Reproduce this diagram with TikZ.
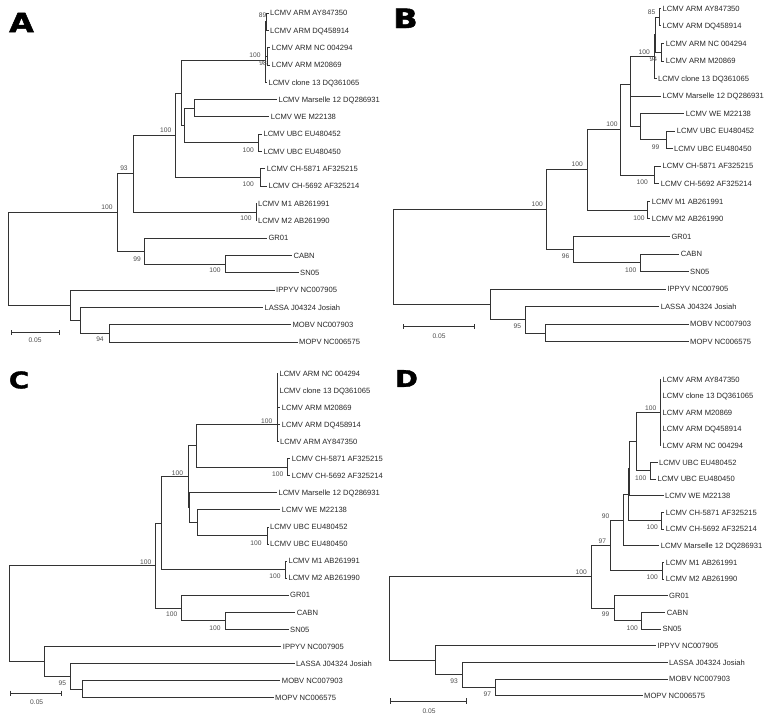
\documentclass[tikz,border=0pt]{standalone}
\usepackage{fontspec}
\setmainfont{Liberation Sans}
\newfontfamily\panelfont[BoldFeatures={FakeBold=1.6}]{DejaVu Sans}
\newcommand\toleaves[2]{\foreach \kid in {#2}{\draw[br] (#1) |- (\kid.west);}}
\newcommand\tonodes[2]{\foreach \kid in {#2}{\draw[br] (#1) |- (\kid);}}
\tikzset{
  leaf/.style={anchor=west, inner xsep=1.1pt, inner ysep=0pt, font=\fontsize{5.7}{6}\selectfont, text=black!85, text height=4.1pt, text depth=0pt},
  bs/.style={inner sep=0pt, font=\fontsize{5}{5}\selectfont, text=black!70, text height=3.6pt, text depth=0pt},
  br/.style={draw=black!80, line width=0.65pt},
  panelbig/.style={inner sep=0pt, font=\panelfont\bfseries\fontsize{20}{20}\selectfont},
  panelsmall/.style={inner sep=0pt, font=\panelfont\bfseries\fontsize{17.2}{17.2}\selectfont},
}
\begin{document}
\begin{tikzpicture}[x=0.75pt,y=-0.75pt]
\useasboundingbox (0,0) rectangle (768,717);
%================ PANEL A =================
\node[panelbig] (pA) at (21.5,22.5) {\scalebox{1.2}[1]{A}};
\node[leaf] (a0) at (268.5,13.0) {LCMV ARM AY847350};
\node[leaf] (a1) at (268.5,30.3) {LCMV ARM DQ458914};
\node[leaf] (a2) at (270.2,47.6) {LCMV ARM NC 004294};
\node[leaf] (a3) at (270.2,65.0) {LCMV ARM M20869};
\node[leaf] (a4) at (266.8,82.3) {LCMV clone 13 DQ361065};
\node[leaf] (a5) at (276.8,99.6) {LCMV Marselle 12 DQ286931};
\node[leaf] (a6) at (269.2,116.9) {LCMV WE M22138};
\node[leaf] (a7) at (261.8,134.2) {LCMV UBC EU480452};
\node[leaf] (a8) at (261.8,151.6) {LCMV UBC EU480450};
\node[leaf] (a9) at (265.2,168.9) {LCMV CH-5871 AF325215};
\node[leaf] (a10) at (266.8,186.2) {LCMV CH-5692 AF325214};
\node[leaf] (a11) at (256.5,203.5) {LCMV M1 AB261991};
\node[leaf] (a12) at (256.5,220.8) {LCMV M2 AB261990};
\node[leaf] (a13) at (266.8,238.2) {GR01};
\node[leaf] (a14) at (291.8,255.5) {CABN};
\node[leaf] (a15) at (298.5,272.8) {SN05};
\node[leaf] (a16) at (274.5,290.1) {IPPYV NC007905};
\node[leaf] (a17) at (262.8,307.4) {LASSA J04324 Josiah};
\node[leaf] (a18) at (290.8,324.8) {MOBV NC007903};
\node[leaf] (a19) at (297.5,342.0) {MOPV NC006575};
\coordinate (aAD) at (266,21.7);
\coordinate (aNM) at (267.3,56.3);
\coordinate (aP1) at (265.5,39.0);
\coordinate (aARM) at (265,60.7);
\coordinate (aS) at (194.3,108.3);
\coordinate (aUBC) at (258.3,142.9);
\coordinate (aR) at (184.3,125.6);
\coordinate (aQ) at (181.7,93.2);
\coordinate (aCH) at (260,177.6);
\coordinate (aP) at (175.7,135.4);
\coordinate (aM12) at (256,212.2);
\coordinate (aN133) at (133,173.8);
\coordinate (aCS) at (225,264.2);
\coordinate (aGR) at (144.3,251.2);
\coordinate (aN117) at (117,212.5);
\coordinate (aMOB) at (109,333.4);
\coordinate (aLAS) at (80.7,320.4);
\coordinate (aOG) at (70.7,305.3);
\coordinate (aRoot) at (8.3,258.9);
\toleaves{aAD}{a0,a1}
\toleaves{aNM}{a2,a3}
\tonodes{aP1}{aAD,aNM}
\tonodes{aARM}{aP1}
\toleaves{aARM}{a4}
\toleaves{aS}{a5,a6}
\toleaves{aUBC}{a7,a8}
\tonodes{aR}{aS,aUBC}
\tonodes{aQ}{aARM,aR}
\toleaves{aCH}{a9,a10}
\tonodes{aP}{aQ,aCH}
\toleaves{aM12}{a11,a12}
\tonodes{aN133}{aP,aM12}
\toleaves{aCS}{a14,a15}
\toleaves{aGR}{a13}
\tonodes{aGR}{aCS}
\tonodes{aN117}{aN133,aGR}
\toleaves{aMOB}{a18,a19}
\toleaves{aLAS}{a17}
\tonodes{aLAS}{aMOB}
\toleaves{aOG}{a16}
\tonodes{aOG}{aLAS}
\tonodes{aRoot}{aN117,aOG}
\node[bs] (ab1) at (262.5,15) {89};
\node[bs] (ab2) at (255,55) {100};
\node[bs] (ab3) at (263,62.7) {98};
\node[bs] (ab4) at (248.3,150) {100};
\node[bs] (ab5) at (248.3,184) {100};
\node[bs] (ab6) at (165.7,130) {100};
\node[bs] (ab7) at (124,168) {93};
\node[bs] (ab8) at (107,207) {100};
\node[bs] (ab9) at (246,218) {100};
\node[bs] (ab10) at (137,259) {99};
\node[bs] (ab11) at (215,270) {100};
\node[bs] (ab12) at (100,339.3) {94};
\coordinate (as1) at (11,332.7);
\coordinate (as2) at (59.3,332.7);
\draw[br] (as1) -- (as2);
\draw[br] ([yshift=2pt]as1) -- ([yshift=-2pt]as1);
\draw[br] ([yshift=2pt]as2) -- ([yshift=-2pt]as2);
\node[bs] (asl) at (35,340.5) {0.05};
%================ PANEL B =================
\node[panelbig] (pB) at (405.5,18.3) {\scalebox{1.2}[1]{B}};
\node[leaf] (b0) at (660.8,8.3) {LCMV ARM AY847350};
\node[leaf] (b1) at (660.8,25.85) {LCMV ARM DQ458914};
\node[leaf] (b2) at (664.2,43.4) {LCMV ARM NC 004294};
\node[leaf] (b3) at (664.2,60.95) {LCMV ARM M20869};
\node[leaf] (b4) at (656.5,78.5) {LCMV clone 13 DQ361065};
\node[leaf] (b5) at (660.8,96.05) {LCMV Marselle 12 DQ286931};
\node[leaf] (b6) at (684.2,113.6) {LCMV WE M22138};
\node[leaf] (b7) at (675.2,131.15) {LCMV UBC EU480452};
\node[leaf] (b8) at (672.5,148.7) {LCMV UBC EU480450};
\node[leaf] (b9) at (660.8,166.25) {LCMV CH-5871 AF325215};
\node[leaf] (b10) at (659.2,183.8) {LCMV CH-5692 AF325214};
\node[leaf] (b11) at (650.2,201.35) {LCMV M1 AB261991};
\node[leaf] (b12) at (650.2,218.9) {LCMV M2 AB261990};
\node[leaf] (b13) at (669.8,236.45) {GR01};
\node[leaf] (b14) at (679.2,254) {CABN};
\node[leaf] (b15) at (688.5,271.55) {SN05};
\node[leaf] (b16) at (665.8,289.1) {IPPYV NC007905};
\node[leaf] (b17) at (659.2,306.65) {LASSA J04324 Josiah};
\node[leaf] (b18) at (688.5,324.2) {MOBV NC007903};
\node[leaf] (b19) at (688.5,341.75) {MOPV NC006575};
\coordinate (bAD) at (659.3,17.1);
\coordinate (bNM) at (661.7,52.2);
\coordinate (bP1) at (655,34.6);
\coordinate (bARM) at (654.3,56.5);
\coordinate (bUBC) at (666.7,139.9);
\coordinate (bWU) at (640,126.8);
\coordinate (bM2) at (630.7,111.4);
\coordinate (bM1) at (630,84);
\coordinate (bCH) at (654,175);
\coordinate (bN620) at (620.7,129.5);
\coordinate (bM12) at (647,210.1);
\coordinate (bN587) at (587.3,169.8);
\coordinate (bCS) at (640,262.8);
\coordinate (bGR) at (573.3,249.6);
\coordinate (bN546) at (546.3,209.7);
\coordinate (bMOB) at (545.7,333);
\coordinate (bLAS) at (525.7,319.8);
\coordinate (bOG) at (490,304.5);
\coordinate (bRoot) at (393.3,257.1);
\toleaves{bAD}{b0,b1}
\toleaves{bNM}{b2,b3}
\tonodes{bP1}{bAD,bNM}
\tonodes{bARM}{bP1}
\toleaves{bARM}{b4}
\toleaves{bUBC}{b7,b8}
\toleaves{bWU}{b6}
\tonodes{bWU}{bUBC}
\toleaves{bM2}{b5}
\tonodes{bM2}{bWU}
\tonodes{bM1}{bARM,bM2}
\toleaves{bCH}{b9,b10}
\tonodes{bN620}{bM1,bCH}
\toleaves{bM12}{b11,b12}
\tonodes{bN587}{bN620,bM12}
\toleaves{bCS}{b14,b15}
\toleaves{bGR}{b13}
\tonodes{bGR}{bCS}
\tonodes{bN546}{bN587,bGR}
\toleaves{bMOB}{b18,b19}
\toleaves{bLAS}{b17}
\tonodes{bLAS}{bMOB}
\toleaves{bOG}{b16}
\tonodes{bOG}{bLAS}
\tonodes{bRoot}{bN546,bOG}
\node[bs] (bb1) at (651.7,11.7) {85};
\node[bs] (bb2) at (644.3,52.3) {100};
\node[bs] (bb3) at (653.3,59.3) {94};
\node[bs] (bb4) at (655.7,146.7) {99};
\node[bs] (bb5) at (612,124.5) {100};
\node[bs] (bb6) at (642.3,181.7) {100};
\node[bs] (bb7) at (577.3,164) {100};
\node[bs] (bb8) at (639,217.7) {100};
\node[bs] (bb9) at (537.3,204.3) {100};
\node[bs] (bb10) at (565.7,256) {96};
\node[bs] (bb11) at (630.7,270) {100};
\node[bs] (bb12) at (517.3,326) {95};
\coordinate (bs1) at (403.3,326.7);
\coordinate (bs2) at (474,326.7);
\draw[br] (bs1) -- (bs2);
\draw[br] ([yshift=2pt]bs1) -- ([yshift=-2pt]bs1);
\draw[br] ([yshift=2pt]bs2) -- ([yshift=-2pt]bs2);
\node[bs] (bsl) at (439,335.7) {0.05};
%================ PANEL C =================
\node[panelsmall] (pC) at (19,380) {\scalebox{1.2}[1]{C}};
\node[leaf] (c0) at (277.8,373.3) {LCMV ARM NC 004294};
\node[leaf] (c1) at (277.8,390.4) {LCMV clone 13 DQ361065};
\node[leaf] (c2) at (280.2,407.4) {LCMV ARM M20869};
\node[leaf] (c3) at (280.2,424.5) {LCMV ARM DQ458914};
\node[leaf] (c4) at (278.5,441.6) {LCMV ARM AY847350};
\node[leaf] (c5) at (290.2,458.7) {LCMV CH-5871 AF325215};
\node[leaf] (c6) at (290.2,475.7) {LCMV CH-5692 AF325214};
\node[leaf] (c7) at (276.8,492.8) {LCMV Marselle 12 DQ286931};
\node[leaf] (c8) at (280.2,509.9) {LCMV WE M22138};
\node[leaf] (c9) at (268.5,527) {LCMV UBC EU480452};
\node[leaf] (c10) at (268.5,544) {LCMV UBC EU480450};
\node[leaf] (c11) at (286.8,561.1) {LCMV M1 AB261991};
\node[leaf] (c12) at (286.8,578.2) {LCMV M2 AB261990};
\node[leaf] (c13) at (288.5,595.2) {GR01};
\node[leaf] (c14) at (295.2,612.3) {CABN};
\node[leaf] (c15) at (288.5,629.4) {SN05};
\node[leaf] (c16) at (281.2,646.4) {IPPYV NC007905};
\node[leaf] (c17) at (294.5,663.5) {LASSA J04324 Josiah};
\node[leaf] (c18) at (280.2,680.6) {MOBV NC007903};
\node[leaf] (c19) at (273.5,697.6) {MOPV NC006575};
\coordinate (cK1) at (277.3,390.4);
\coordinate (cK2) at (277.3,407.5);
\coordinate (cARM) at (277.3,424.5);
\coordinate (cCH) at (287.3,467.2);
\coordinate (cN196) at (196,445.9);
\coordinate (cUBC) at (267.7,535.5);
\coordinate (cN197) at (197.7,522.7);
\coordinate (cN189) at (189,507.8);
\coordinate (cN3) at (188.3,476.8);
\coordinate (cM12) at (285,569.7);
\coordinate (cN2) at (161.7,523.3);
\coordinate (cCS) at (225.7,620.9);
\coordinate (cGR) at (181.7,608);
\coordinate (cN1) at (155.7,565.7);
\coordinate (cMOB) at (82.7,689.1);
\coordinate (cLAS) at (70,676.3);
\coordinate (cOG) at (44.3,661.4);
\coordinate (cRoot) at (9.3,613.5);
\toleaves{cK1}{c0,c1,c2}
\tonodes{cK2}{cK1}
\toleaves{cK2}{c3}
\tonodes{cARM}{cK2}
\toleaves{cARM}{c4}
\toleaves{cCH}{c5,c6}
\tonodes{cN196}{cARM,cCH}
\toleaves{cUBC}{c9,c10}
\toleaves{cN197}{c8}
\tonodes{cN197}{cUBC}
\toleaves{cN189}{c7}
\tonodes{cN189}{cN197}
\tonodes{cN3}{cN196,cN189}
\toleaves{cM12}{c11,c12}
\tonodes{cN2}{cN3,cM12}
\toleaves{cCS}{c14,c15}
\toleaves{cGR}{c13}
\tonodes{cGR}{cCS}
\tonodes{cN1}{cN2,cGR}
\toleaves{cMOB}{c18,c19}
\toleaves{cLAS}{c17}
\tonodes{cLAS}{cMOB}
\toleaves{cOG}{c16}
\tonodes{cOG}{cLAS}
\tonodes{cRoot}{cN1,cOG}
\node[bs] (cb1) at (266.7,421) {100};
\node[bs] (cb2) at (277.7,474.3) {100};
\node[bs] (cb3) at (177.5,473) {100};
\node[bs] (cb4) at (256,543) {100};
\node[bs] (cb5) at (145.7,561.7) {100};
\node[bs] (cb6) at (275,576.5) {100};
\node[bs] (cb7) at (171.7,614.5) {100};
\node[bs] (cb8) at (215,628.3) {100};
\node[bs] (cb9) at (62.3,683.3) {95};
\coordinate (cs1) at (10,693.3);
\coordinate (cs2) at (61.7,693.3);
\draw[br] (cs1) -- (cs2);
\draw[br] ([yshift=2pt]cs1) -- ([yshift=-2pt]cs1);
\draw[br] ([yshift=2pt]cs2) -- ([yshift=-2pt]cs2);
\node[bs] (csl) at (36.7,702.3) {0.05};
%================ PANEL D =================
\node[panelsmall] (pD) at (406.5,378.5) {\scalebox{1.2}[1]{D}};
\node[leaf] (d0) at (660.8,379.3) {LCMV ARM AY847350};
\node[leaf] (d1) at (660.8,395.95) {LCMV clone 13 DQ361065};
\node[leaf] (d2) at (660.8,412.6) {LCMV ARM M20869};
\node[leaf] (d3) at (660.8,429.25) {LCMV ARM DQ458914};
\node[leaf] (d4) at (660.8,445.9) {LCMV ARM NC 004294};
\node[leaf] (d5) at (657.5,462.55) {LCMV UBC EU480452};
\node[leaf] (d6) at (655.8,479.2) {LCMV UBC EU480450};
\node[leaf] (d7) at (663.5,495.85) {LCMV WE M22138};
\node[leaf] (d8) at (664.2,512.5) {LCMV CH-5871 AF325215};
\node[leaf] (d9) at (664.2,529.15) {LCMV CH-5692 AF325214};
\node[leaf] (d10) at (659.2,545.8) {LCMV Marselle 12 DQ286931};
\node[leaf] (d11) at (664.2,562.45) {LCMV M1 AB261991};
\node[leaf] (d12) at (664.2,579.1) {LCMV M2 AB261990};
\node[leaf] (d13) at (667.5,595.75) {GR01};
\node[leaf] (d14) at (665.2,612.4) {CABN};
\node[leaf] (d15) at (660.8,629.05) {SN05};
\node[leaf] (d16) at (655.8,645.7) {IPPYV NC007905};
\node[leaf] (d17) at (667.5,662.35) {LASSA J04324 Josiah};
\node[leaf] (d18) at (667.5,679) {MOBV NC007903};
\node[leaf] (d19) at (642.5,695.65) {MOPV NC006575};
\coordinate (dARM) at (660,412.6);
\coordinate (dUBC) at (650.7,470.9);
\coordinate (dAU) at (636.7,441.7);
\coordinate (dXa) at (629.7,468.8);
\coordinate (dCH) at (661.7,520.8);
\coordinate (dY) at (628.3,494.8);
\coordinate (dN90) at (623.3,520.3);
\coordinate (dM12) at (662.3,570.8);
\coordinate (dN97) at (610.7,545.5);
\coordinate (dCS) at (641.7,620.7);
\coordinate (dGR) at (614,608.2);
\coordinate (dN100) at (591.3,576.9);
\coordinate (dMOB) at (495,687.3);
\coordinate (dLAS) at (462.3,674.8);
\coordinate (dOG) at (435.7,660.3);
\coordinate (dRoot) at (389,618.6);
\toleaves{dARM}{d0,d1,d2,d3,d4}
\toleaves{dUBC}{d5,d6}
\tonodes{dAU}{dARM,dUBC}
\tonodes{dXa}{dAU}
\toleaves{dXa}{d7}
\toleaves{dCH}{d8,d9}
\tonodes{dY}{dXa,dCH}
\tonodes{dN90}{dY}
\toleaves{dN90}{d10}
\toleaves{dM12}{d11,d12}
\tonodes{dN97}{dN90,dM12}
\toleaves{dCS}{d14,d15}
\toleaves{dGR}{d13}
\tonodes{dGR}{dCS}
\tonodes{dN100}{dN97,dGR}
\toleaves{dMOB}{d18,d19}
\toleaves{dLAS}{d17}
\tonodes{dLAS}{dMOB}
\toleaves{dOG}{d16}
\tonodes{dOG}{dLAS}
\tonodes{dRoot}{dN100,dOG}
\node[bs] (db1) at (650.7,407.7) {100};
\node[bs] (db2) at (640.7,478.3) {100};
\node[bs] (db3) at (605.7,515.7) {90};
\node[bs] (db4) at (652.3,526.7) {100};
\node[bs] (db5) at (602.3,540.7) {97};
\node[bs] (db6) at (652.3,577.3) {100};
\node[bs] (db7) at (581.3,572.3) {100};
\node[bs] (db8) at (605.7,614.3) {99};
\node[bs] (db9) at (632.3,627.7) {100};
\node[bs] (db10) at (454,681) {93};
\node[bs] (db11) at (487.3,694) {97};
\coordinate (ds1) at (390.7,701);
\coordinate (ds2) at (466.7,701);
\draw[br] (ds1) -- (ds2);
\draw[br] ([yshift=2pt]ds1) -- ([yshift=-2pt]ds1);
\draw[br] ([yshift=2pt]ds2) -- ([yshift=-2pt]ds2);
\node[bs] (dsl) at (429,711.5) {0.05};
\end{tikzpicture}
\end{document}
